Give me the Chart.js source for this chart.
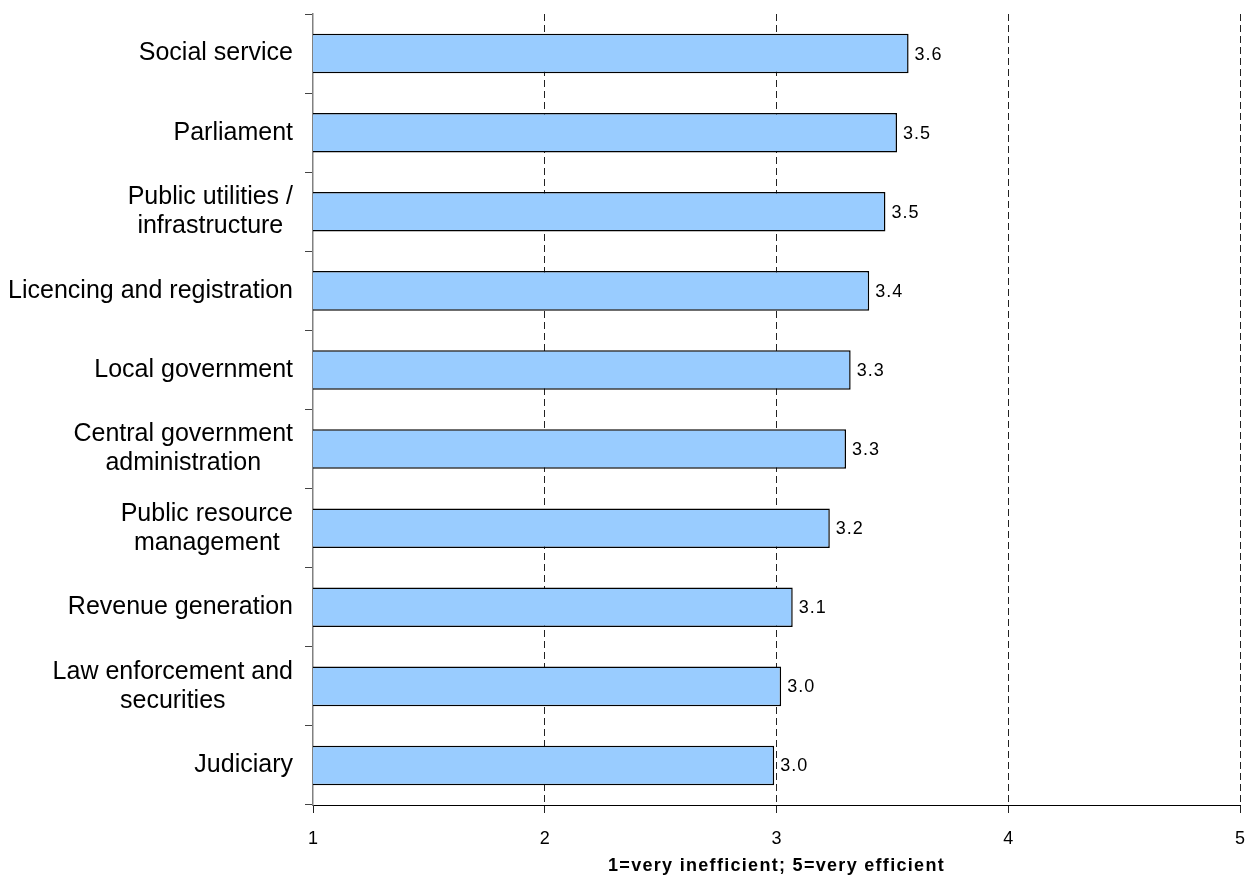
<!DOCTYPE html>
<html>
<head>
<meta charset="utf-8">
<script src="https://cdn.jsdelivr.net/npm/chart.js@4.4.0/dist/chart.umd.min.js"></script>
<style>
  html, body { margin: 0; padding: 0; background: #fff; }
</style>
</head>
<body>
<canvas id="chart" width="1247" height="878"></canvas>
<script>
// Data
const categories = [
  ['Social service'],
  ['Parliament'],
  ['Public utilities /', 'infrastructure'],
  ['Licencing and registration'],
  ['Local government'],
  ['Central government', 'administration'],
  ['Public resource', 'management'],
  ['Revenue generation'],
  ['Law enforcement and', 'securities'],
  ['Judiciary']
];
const scores = [3.57, 3.52, 3.47, 3.40, 3.32, 3.30, 3.23, 3.07, 3.02, 2.99];
const xTicks = [1, 2, 3, 4, 5];
const axisTitle = '1=very inefficient; 5=very efficient';

const FONT = "'Liberation Sans', Arial, sans-serif";

// Category labels, each block right aligned, lines centred within the block
const categoryLabels = {
  id: 'categoryLabels',
  afterDraw(chart) {
    const ctx = chart.ctx;
    const yScale = chart.scales.y;
    const rightEdge = chart.chartArea.left - 20;
    const lineHeight = 29;
    ctx.save();
    ctx.font = '25px ' + FONT;
    ctx.fillStyle = '#000';
    ctx.textAlign = 'center';
    ctx.textBaseline = 'middle';
    categories.forEach((lines, i) => {
      const y = yScale.getPixelForValue(i);
      const maxW = Math.max(...lines.map(l => ctx.measureText(l).width));
      const cx = rightEdge - maxW / 2;
      const startY = y - (lines.length - 1) * lineHeight / 2;
      lines.forEach((line, j) => ctx.fillText(line, cx, startY + j * lineHeight));
    });
    ctx.restore();
  }
};

// Value labels at the end of each bar
const valueLabels = {
  id: 'valueLabels',
  afterDatasetsDraw(chart) {
    const ctx = chart.ctx;
    const meta = chart.getDatasetMeta(0);
    ctx.save();
    ctx.font = '18px ' + FONT;
    ctx.letterSpacing = '1px';
    ctx.fillStyle = '#000';
    ctx.textAlign = 'left';
    ctx.textBaseline = 'middle';
    meta.data.forEach((bar, i) => {
      ctx.fillText(scores[i].toFixed(1), bar.x + 6, bar.y + 1);
    });
    ctx.restore();
  }
};

// Axis title under the x axis
const xTitle = {
  id: 'xTitle',
  afterDraw(chart) {
    const ctx = chart.ctx;
    const area = chart.chartArea;
    ctx.save();
    ctx.font = 'bold 18px ' + FONT;
    ctx.letterSpacing = '1.3px';
    ctx.fillStyle = '#000';
    ctx.textAlign = 'center';
    ctx.textBaseline = 'middle';
    ctx.fillText(axisTitle, (area.left + area.right) / 2, 866);
    ctx.restore();
  }
};

const ctx = document.getElementById('chart').getContext('2d');
const chart = new Chart(ctx, {
  type: 'bar',
  data: {
    labels: categories,
    datasets: [{
      data: scores,
      backgroundColor: '#99CCFF',
      borderColor: '#000',
      borderWidth: 1.5,
      borderSkipped: false,
      barPercentage: 0.5,
      categoryPercentage: 1
    }]
  },
  options: {
    indexAxis: 'y',
    responsive: false,
    animation: false,
    devicePixelRatio: 1,
    layout: { padding: { top: 14, right: 7, left: 0, bottom: 0 } },
    plugins: {
      legend: { display: false },
      tooltip: { enabled: false }
    },
    scales: {
      x: {
        type: 'linear',
        position: 'bottom',
        min: xTicks[0],
        max: xTicks[xTicks.length - 1],
        afterBuildTicks: (scale) => { scale.ticks = xTicks.map(v => ({ value: v })); },
        afterFit: (scale) => {
          scale.height = 73;
          scale.paddingLeft = 0;
          scale.paddingRight = 0;
        },
        ticks: {
          color: '#000',
          font: { family: FONT, size: 18 },
          padding: 15
        },
        grid: {
          color: (c) => (c.tick && c.tick.value === 1 ? 'rgba(0,0,0,0)' : '#222'),
          lineWidth: 1,
          tickColor: '#222',
          tickLength: 8
        },
        border: { display: true, color: '#000', width: 1, dash: [7, 4] }
      },
      y: {
        type: 'category',
        position: 'left',
        offset: true,
        afterFit: (scale) => { scale.width = 313; },
        ticks: { display: false },
        grid: {
          offset: true,
          drawOnChartArea: false,
          drawTicks: true,
          tickLength: 8,
          tickColor: '#444'
        },
        border: { display: true, color: '#808080', width: 1.5 }
      }
    }
  },
  plugins: [categoryLabels, valueLabels, xTitle]
});
</script>
</body>
</html>
